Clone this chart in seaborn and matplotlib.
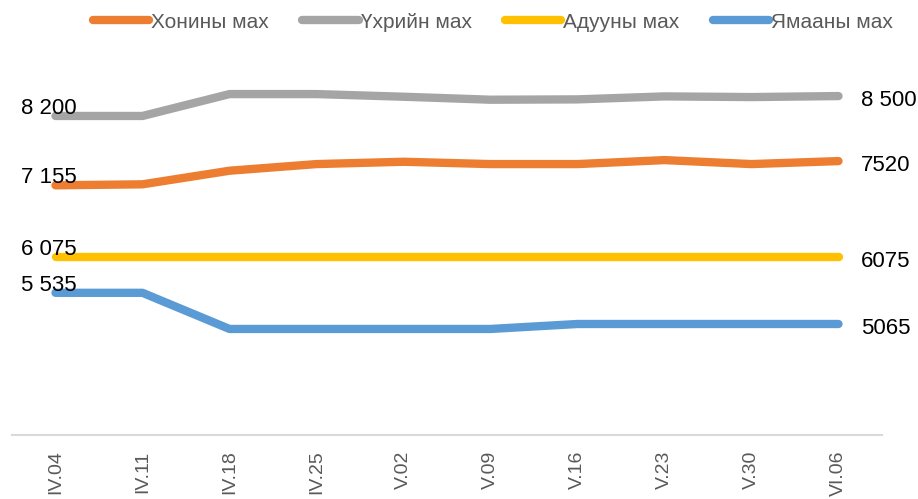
import numpy as np
import pandas as pd
import seaborn as sns
import matplotlib.pyplot as plt
from matplotlib.ticker import FixedLocator

# weekly dates (category labels)
dates = ["IV.04", "IV.11", "IV.18", "IV.25", "V.02", "V.09", "V.16", "V.23", "V.30", "VI.06"]

# meat prices per kg
sheep = [7155, 7170, 7375, 7475, 7510, 7475, 7475, 7535, 7475, 7520]
beef = [8200, 8200, 8530, 8530, 8490, 8445, 8450, 8495, 8485, 8500]
horse = [6075, 6075, 6075, 6075, 6075, 6075, 6075, 6075, 6075, 6075]
goat = [5535, 5535, 4990, 4990, 4990, 4990, 5065, 5065, 5065, 5065]

series_names = ["Хонины мах", "Үхрийн мах", "Адууны мах", "Ямааны мах"]
series_values = [sheep, beef, horse, goat]
series_colors = ["#ED7D31", "#A5A5A5", "#FFC000", "#5B9BD5"]

# labels shown at both ends of each line
start_labels = ["7 155", "8 200", "6 075", "5 535"]
end_labels = ["7520", "8 500", "6075", "5065"]

sns.set_style("white")
plt.rcParams["font.family"] = ["Liberation Sans", "DejaVu Sans"]

fig = plt.figure(figsize=(9.18, 4.99), dpi=100)
ax = fig.add_axes([12 / 918, (499 - 435) / 499, 870 / 918, 395 / 499])

x = np.arange(len(dates))
for name, vals, col in zip(series_names, series_values, series_colors):
    df = pd.DataFrame({"pos": x, "price": vals})
    sns.lineplot(data=df, x="pos", y="price", color=col, linewidth=6,
                 label=name, ax=ax, solid_capstyle="round")

for vals, s_lab, e_lab in zip(series_values, start_labels, end_labels):
    ax.annotate(s_lab, (x[0], vals[0]), xytext=(-5, -2), textcoords="offset points",
                ha="center", va="bottom", fontsize=16, color="black")
    ax.annotate(e_lab, (x[-1], vals[-1]), xytext=(16, -3), textcoords="offset points",
                ha="left", va="center", fontsize=16, color="black")

ax.set_xlim(-0.5, len(dates) - 0.5)
ax.set_ylim(3392, 9345)
ax.set_yticks([])
ax.set_xlabel("")
ax.set_ylabel("")

ax.set_xticks(x)
ax.set_xticklabels(dates, rotation=90, fontsize=14, color="#595959", va="top")
ax.tick_params(axis="x", which="major", length=0, pad=11)
ax.xaxis.set_minor_locator(FixedLocator(np.arange(-0.5, len(dates), 1.0)))
ax.tick_params(axis="x", which="minor", length=6, width=1.2, color="#D9D9D9")

for side in ["top", "right", "left"]:
    ax.spines[side].set_visible(False)
ax.spines["bottom"].set_color("#D9D9D9")
ax.spines["bottom"].set_linewidth(1.5)

handles, labels = ax.get_legend_handles_labels()
ax.get_legend().remove()
leg = fig.legend(handles, labels, loc="center", bbox_to_anchor=(493 / 918, 1 - 22 / 499),
                 ncol=4, frameon=False, fontsize=15, handlelength=2.7,
                 handletextpad=0.1, columnspacing=1.6)
for t in leg.get_texts():
    t.set_color("#595959")

fig.savefig("out.png", dpi=100)
